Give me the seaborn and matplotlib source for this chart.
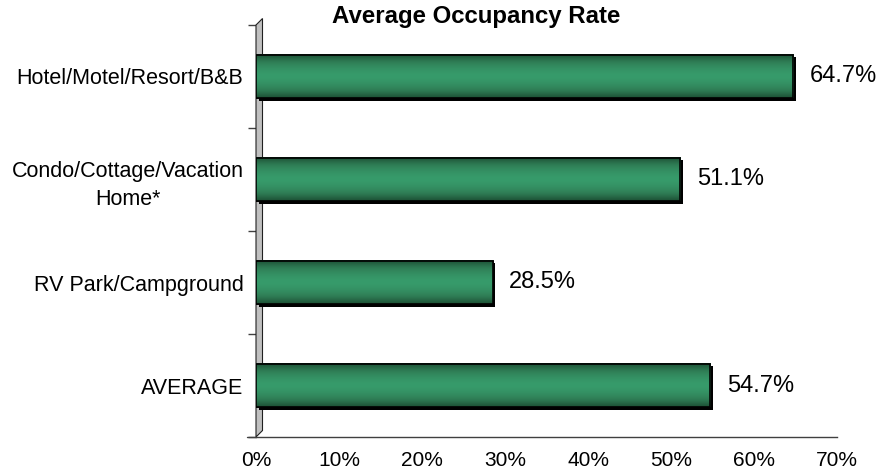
import numpy as np
import matplotlib
matplotlib.use('Agg')
import matplotlib.pyplot as plt
import matplotlib.patheffects as pe
from matplotlib.colors import LinearSegmentedColormap
from matplotlib.patches import Polygon, Rectangle
import seaborn as sns

## DATA
categories = ['Hotel/Motel/Resort/B&B', 'Condo/Cottage/Vacation\nHome*',
              'RV Park/Campground', 'AVERAGE']
rates = [64.7, 51.1, 28.5, 54.7]
x_ticks = [0, 10, 20, 30, 40, 50, 60, 70]
x_tick_labels = ['0%', '10%', '20%', '30%', '40%', '50%', '60%', '70%']
title = 'Average Occupancy Rate'

## STYLE
sns.set_style('white')
plt.rcParams['font.family'] = ['Liberation Sans', 'DejaVu Sans']
plt.rcParams['text.color'] = 'black'
plt.rcParams['xtick.labelcolor'] = 'black'
plt.rcParams['ytick.labelcolor'] = 'black'
axis_grey = '#404040'

W, H = 881, 474
fig = plt.figure(figsize=(W / 100, H / 100), dpi=100)
# axes box in pixels: x 256..837, y 25..437 (from top)
ax = fig.add_axes([256 / W, 37 / H, (837 - 256) / W, (437 - 25) / H])

sns.barplot(x=rates, y=categories, orient='y', color='#2e8b5c', saturation=1,
            width=0.42, edgecolor='black', linewidth=1.2, ax=ax, zorder=2)

# gradient fill on each bar (dark edges, light middle) + dark shadow
green = LinearSegmentedColormap.from_list('g', ['#1c4f34', '#2f7d55', '#379b6b'])
t = np.linspace(-1, 1, 80)
grad = (1 - np.abs(t) ** 1.6)[:, None]
for p in list(ax.patches):
    b = p.get_bbox()
    p.set_path_effects([pe.SimplePatchShadow(offset=(1.8, -1.8), shadow_rgbFace='black', alpha=1),
                        pe.Normal()])
    ax.imshow(grad, cmap=green, extent=(b.x0, b.x1, b.y0, b.y1), aspect='auto',
              interpolation='bicubic', zorder=2.1)
    ax.add_patch(Rectangle((b.x0, b.y0), b.width, b.height, fill=False,
                           edgecolor='black', linewidth=1.2, zorder=2.2))

ax.set_xlim(0, 70)
ax.set_ylim(3.5, -0.5)

# grey 3D wall on the left
dx, dy = 6.5 / 581, 6.5 / 412
wall = Polygon([(0, 0), (dx, dy), (dx, 1 + dy), (0, 1)], closed=True,
               transform=ax.transAxes, facecolor='#c0c0c0', edgecolor='#202020',
               linewidth=0.8, clip_on=False, zorder=1)
ax.add_patch(wall)
ax.plot([-9 / 581, 0], [0, 0], transform=ax.transAxes, color=axis_grey,
        linewidth=1, clip_on=False)

# value labels
for i, v in enumerate(rates):
    ax.annotate(f'{v:.1f}%', xy=(v, i), xytext=(12, 0), textcoords='offset points',
                va='center', ha='left', fontsize=17, color='black')

# axes styling
for s in ['top', 'right', 'left']:
    ax.spines[s].set_visible(False)
ax.spines['bottom'].set_color(axis_grey)
ax.spines['bottom'].set_linewidth(1)

ax.set_xticks(x_ticks)
ax.set_xticklabels(x_tick_labels)
ax.tick_params(axis='x', length=6, width=1, color=axis_grey, pad=4, labelsize=15,
               labelcolor='black')
ax.set_yticks([-0.5, 0.5, 1.5, 2.5, 3.5], minor=True)
ax.tick_params(axis='y', which='minor', left=True, length=6, width=1, color=axis_grey)
ax.tick_params(axis='y', which='major', length=0, pad=9, labelsize=15.5,
               labelcolor='black')
for lbl in ax.get_yticklabels():
    lbl.set_multialignment('center')
    lbl.set_linespacing(1.45)
ax.set_xlabel('')
ax.set_ylabel('')

fig.text(476 / W, 1 - 23.5 / H, title, ha='center', va='baseline',
         fontsize=17.3, fontweight='bold', color='black')

fig.savefig('out.png', dpi=100)
